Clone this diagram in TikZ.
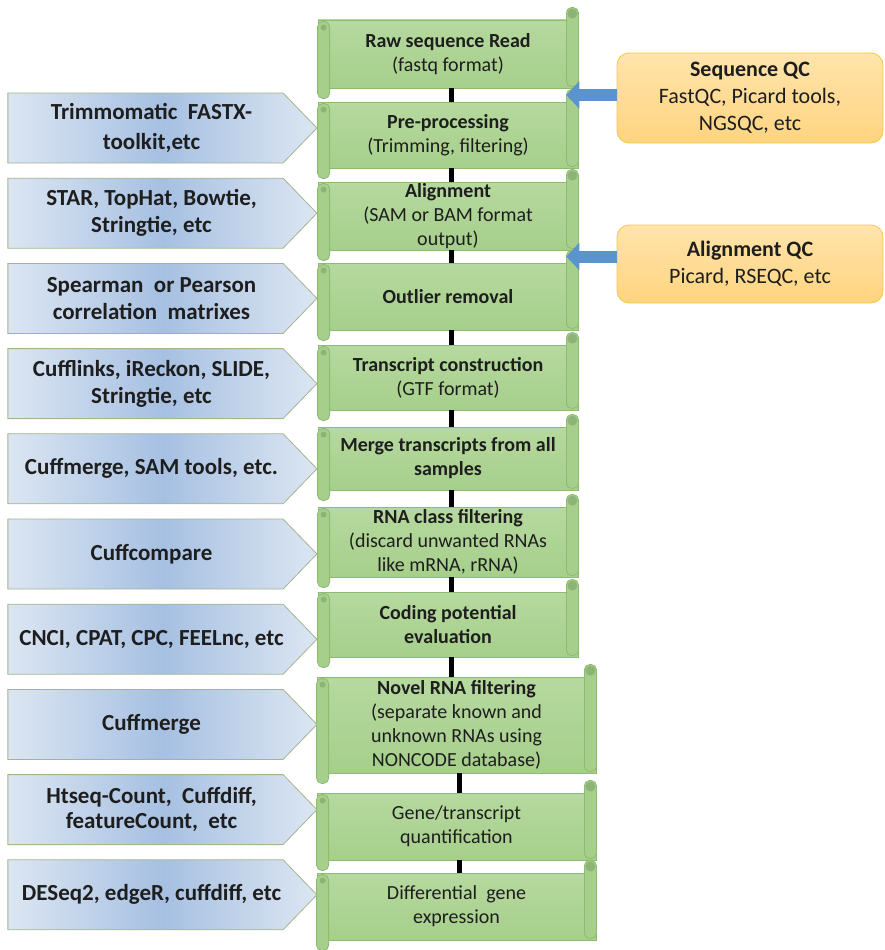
\documentclass[tikz,border=0pt]{standalone}
\usepackage{fontspec}
\setmainfont{Carlito}
\usetikzlibrary{shapes.symbols,arrows.meta,calc}
\definecolor{stepgreen}{HTML}{A6CF8B}
\definecolor{stepgreenlt}{HTML}{B6D99F}
\definecolor{stepedge}{HTML}{8DBB6F}
\definecolor{curlgreen}{HTML}{8DB476}
\definecolor{toolblue}{HTML}{A6C0E2}
\definecolor{toolbluelt}{HTML}{DCE6F2}
\definecolor{tooledge}{HTML}{A3B58C}
\definecolor{qcfill}{HTML}{FFD47F}
\definecolor{qcfilllt}{HTML}{FFE4AC}
\definecolor{qcedge}{HTML}{F7C845}
\definecolor{qcblue}{HTML}{5B93CF}
\definecolor{ink}{HTML}{1E1E1E}
\tikzset{
  stepbox/.style={rectangle, draw=stepedge, line width=0.8pt, top color=stepgreenlt, bottom color=stepgreen,
    align=center, text=ink, inner sep=0pt, font=\fontsize{20}{24}\selectfont},
  tooltext/.style={xshift=6pt, align=center, text=ink, font=\bfseries\fontsize{23}{27}\selectfont},
  toolbox/.style={signal, signal to=east, signal pointer angle=92, draw=tooledge, line width=0.8pt,
    left color=toolbluelt, right color=toolbluelt, middle color=toolblue,
    minimum width=309pt, minimum height=70pt, inner sep=0pt, label={[tooltext]center:#1}},
  qcbox/.style={rectangle, rounded corners=12pt, draw=qcedge, line width=0.8pt, top color=qcfilllt, bottom color=qcfill,
    align=center, text=ink, font=\fontsize{22}{27}\selectfont},
  link/.style={line width=5pt, black},
  qcarrow/.style={line width=12pt, qcblue, -{Triangle[length=13pt,width=27pt]}}
}
\begin{document}
\begin{tikzpicture}[x=1pt,y=-1pt]
\useasboundingbox (0,0) rectangle (884,950);

\node[stepbox, minimum width=260pt, minimum height=68pt] (raw) at (448,54) {\textbf{Raw sequence Read}\\(fastq format)};
\node[stepbox, minimum width=260pt, minimum height=66pt] (pre) at (448,135) {\textbf{Pre-processing}\\(Trimming, filtering)};
\node[stepbox, minimum width=260pt, minimum height=68pt] (align) at (448,216) {\textbf{Alignment}\\(SAM or BAM format\\output)};
\node[stepbox, minimum width=260pt, minimum height=67pt] (outlier) at (448,296.5) {\textbf{Outlier removal}};
\node[stepbox, minimum width=260pt, minimum height=65pt] (transcript) at (448,377.5) {\textbf{Transcript construction}\\(GTF format)};
\node[stepbox, minimum width=260pt, minimum height=63pt] (merge) at (448,458.5) {\textbf{Merge transcripts from all}\\\textbf{samples}};
\node[stepbox, minimum width=260pt, minimum height=70pt] (rna) at (448,542) {\textbf{RNA class filtering}\\(discard unwanted RNAs\\like mRNA, rRNA)};
\node[stepbox, minimum width=260pt, minimum height=65pt] (coding) at (448,624.5) {\textbf{Coding potential}\\\textbf{evaluation}};
\node[stepbox, minimum width=279pt, minimum height=96pt] (novel) at (456.5,725) {\textbf{Novel RNA filtering}\\(separate known and\\unknown RNAs using\\NONCODE database)};
\node[stepbox, minimum width=279pt, minimum height=67pt] (gene) at (456.5,826.5) {Gene/transcript\\quantification};
\node[stepbox, minimum width=279pt, minimum height=67pt] (diff) at (456.5,906.5) {Differential\ \ gene\\expression};

\foreach \n in {raw,pre,align,outlier,transcript,merge,rna,coding,novel,gene,diff}{
  \draw[stepedge, fill=stepgreen, rounded corners=5pt, line width=0.8pt] ([xshift=-12pt,yshift=12pt]\n.north east) rectangle ([yshift=2pt]\n.south east);
  \fill[curlgreen] ([xshift=-6pt,yshift=6pt]\n.north east) circle (5pt);
  \draw[stepedge, fill=stepgreen, rounded corners=5pt, line width=0.8pt] ([yshift=-2pt]\n.north west) rectangle ([xshift=12pt,yshift=-10pt]\n.south west);
  \fill[curlgreen] ([xshift=6pt,yshift=-8pt]\n.north west) circle (3pt);
}

\foreach \a/\b in {raw/pre,pre/align,align/outlier,outlier/transcript,transcript/merge,merge/rna,rna/coding,coding/novel,novel/gene,gene/diff}
  \draw[link] ([xshift=3pt]\a.south) -- ([xshift=3pt]\a.south |- \b.north);

\node[toolbox={Trimmomatic\ \ FASTX-\\[3pt]toolkit,etc}] (trim) at (145.5,128) {};
\node[toolbox={STAR, TopHat, Bowtie,\\Stringtie, etc}] (star) at (145.5,213.2) {};
\node[toolbox={Spearman\ \ or Pearson\\correlation\ \ matrixes}] (corr) at (145.5,298.4) {};
\node[toolbox={Cufflinks, iReckon, SLIDE,\\Stringtie, etc}] (cufflinks) at (145.5,383.6) {};
\node[toolbox={Cuffmerge, SAM tools, etc.}] (cuffsam) at (145.5,468.8) {};
\node[toolbox={Cuffcompare}] (cuffcomp) at (145.5,554) {};
\node[toolbox={CNCI, CPAT, CPC, FEELnc, etc}] (cnci) at (145.5,639.2) {};
\node[toolbox={Cuffmerge}] (cuffmerge) at (145.5,724.4) {};
\node[toolbox={Htseq-Count,\ \ Cuffdiff,\\[-2pt]featureCount,\ \ etc}] (htseq) at (145.5,809.6) {};
\node[toolbox={DESeq2, edgeR, cuffdiff, etc}] (deseq) at (145.5,894.8) {};

\node[qcbox, minimum width=266pt, minimum height=90pt] (seqqc) at (750,98) {\textbf{Sequence QC}\\FastQC, Picard tools,\\NGSQC, etc};
\node[qcbox, minimum width=266pt, minimum height=78pt] (alnqc) at (750,264) {\textbf{Alignment QC}\\Picard, RSEQC, etc};
\coordinate (seqgap) at ($(raw.south east)!0.5!(pre.north east)$);
\coordinate (alngap) at ($(align.south east)!0.5!(outlier.north east)$);
\draw[qcarrow] (seqqc.west |- seqgap) -- ([xshift=-12pt]seqgap);
\draw[qcarrow] (alnqc.west |- alngap) -- ([xshift=-12pt]alngap);
\end{tikzpicture}
\end{document}
